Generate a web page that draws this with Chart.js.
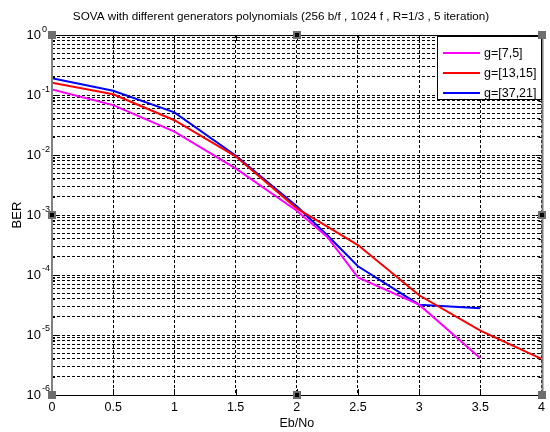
<!DOCTYPE html>
<html>
<head>
<meta charset="utf-8">
<script src="https://cdn.jsdelivr.net/npm/chart.js@4.4.1/dist/chart.umd.min.js"></script>
<style>
  html, body { margin: 0; padding: 0; background: #fff; }
  canvas { display: block; }
</style>
</head>
<body>
<canvas id="ber" width="550" height="432"></canvas>
<script>
// Eb/No sample points (dB)
const ebNo = [0, 0.5, 1, 1.5, 2, 2.25, 2.5, 3, 3.5, 4];

// Bit error rate for each generator polynomial pair
const berG75   = [0.124, 0.068, 0.0245, 0.0060, 0.00118, 0.00043, 9.1e-5, 3.2e-5, 4.1e-6, null];
const berG1315 = [0.160, 0.103, 0.0380, 0.0095, 0.00129, 0.00064, 3.16e-4, 4.6e-5, 1.18e-5, 4.0e-6];
const berG3721 = [0.190, 0.118, 0.0514, 0.0098, 0.00140, 0.00046, 1.4e-4, 3.2e-5, 2.8e-5, null];

const seriesNames = ['g=[7,5]', 'g=[13,15]', 'g=[37,21]'];
const seriesColors = ['#ff00ff', '#ff0000', '#0000ff'];

// Axis ticks
const xTickValues = [0, 0.5, 1, 1.5, 2, 2.5, 3, 3.5, 4];
const yDecades = [0, -1, -2, -3, -4, -5, -6];

const chartTitle = 'SOVA with different generators polynomials (256 b/f , 1024 f , R=1/3 , 5 iteration)';
const xTitle = 'Eb/No';
const yTitle = 'BER';

const FONT = '"Liberation Sans", Arial, sans-serif';

function toPoints(values) {
  const pts = [];
  values.forEach((v, i) => { if (v !== null) pts.push({ x: ebNo[i], y: v }); });
  return pts;
}

// 1..9 x 10^n grid for the log axis
function logTicks() {
  const ticks = [];
  const lo = Math.min(...yDecades), hi = Math.max(...yDecades);
  for (let e = lo; e <= hi; e++) {
    for (let m = 1; m <= 9; m++) {
      if (e === hi && m > 1) break;
      ticks.push({ value: m * Math.pow(10, e), major: m === 1 });
    }
  }
  return ticks;
}

function isDecade(v) {
  const e = Math.log10(v);
  return Math.abs(e - Math.round(e)) < 1e-9;
}

// Frame, tick marks, decade exponents, legend and axes handles
const decorations = {
  id: 'decorations',
  afterDraw(chart) {
    const { ctx, chartArea: a, scales } = chart;
    const xs = scales.x, ys = scales.y;
    ctx.save();

    // inward tick marks on all four sides
    ctx.strokeStyle = '#000';
    ctx.lineWidth = 1;
    ctx.setLineDash([]);
    ctx.beginPath();
    ys.ticks.forEach(t => {
      const y = Math.round(ys.getPixelForValue(t.value)) + 0.5;
      const len = isDecade(t.value) ? 6 : 3;
      ctx.moveTo(a.left, y); ctx.lineTo(a.left + len, y);
      ctx.moveTo(a.right, y); ctx.lineTo(a.right - len, y);
    });
    xTickValues.forEach(v => {
      const x = Math.round(xs.getPixelForValue(v)) + 0.5;
      ctx.moveTo(x, a.bottom); ctx.lineTo(x, a.bottom - 6);
      ctx.moveTo(x, a.top); ctx.lineTo(x, a.top + 6);
    });
    ctx.stroke();

    // axes box
    ctx.beginPath();
    ctx.moveTo(a.left, a.top + 0.5); ctx.lineTo(a.right, a.top + 0.5);
    ctx.moveTo(a.left, a.bottom + 0.5); ctx.lineTo(a.right, a.bottom + 0.5);
    ctx.stroke();
    ctx.strokeStyle = '#808080';
    ctx.lineWidth = 2;
    ctx.beginPath();
    ctx.moveTo(a.left, a.top); ctx.lineTo(a.left, a.bottom);
    ctx.moveTo(a.right + 1, a.top); ctx.lineTo(a.right + 1, a.bottom);
    ctx.stroke();

    // decade exponents next to the "10" labels
    ctx.fillStyle = '#000';
    ctx.font = '9px ' + FONT;
    ctx.textAlign = 'left';
    ctx.textBaseline = 'middle';
    const labelRight = a.left - ys.options.ticks.padding;
    yDecades.forEach(d => {
      const y = ys.getPixelForValue(Math.pow(10, d));
      ctx.fillText(d === 0 ? '0' : '-' + Math.abs(d), labelRight + 1, y - 6);
    });

    // legend box
    const lx = 437, ly = 36, lw = 104, lh = 63;
    ctx.fillStyle = '#fff';
    ctx.fillRect(lx, ly, lw, lh);
    ctx.strokeStyle = '#000';
    ctx.lineWidth = 1;
    ctx.strokeRect(lx + 0.5, ly + 0.5, lw, lh);
    ctx.font = '12.5px ' + FONT;
    ctx.textBaseline = 'middle';
    chart.data.datasets.forEach((ds, i) => {
      const y = ly + 17 + i * 20;
      ctx.strokeStyle = ds.borderColor;
      ctx.lineWidth = 2;
      ctx.beginPath();
      ctx.moveTo(lx + 6, y); ctx.lineTo(lx + 43, y);
      ctx.stroke();
      ctx.fillStyle = '#000';
      ctx.fillText(ds.label, lx + 47, y + 1);
    });

    // selection handles at corners and edge midpoints
    const mx = (a.left + a.right) / 2, my = (a.top + a.bottom) / 2;
    const handles = [
      [a.left, a.top], [mx, a.top], [a.right, a.top],
      [a.left, my], [a.right, my],
      [a.left, a.bottom], [mx, a.bottom], [a.right, a.bottom]
    ];
    handles.forEach(([hx, hy], i) => {
      ctx.fillStyle = '#6e6e6e';
      ctx.fillRect(Math.round(hx) - 4, Math.round(hy) - 4, 8, 8);
      if (i === 1 || i === 3 || i === 4 || i === 6) {
        ctx.fillStyle = '#000';
        ctx.fillRect(Math.round(hx) - 2, Math.round(hy) - 2, 4, 4);
      }
    });
    ctx.restore();
  }
};

new Chart(document.getElementById('ber'), {
  type: 'line',
  data: {
    datasets: [berG75, berG1315, berG3721].map((vals, i) => ({
      label: seriesNames[i],
      data: toPoints(vals),
      borderColor: seriesColors[i],
      backgroundColor: seriesColors[i],
      borderWidth: 2,
      pointRadius: 0,
      tension: 0,
      fill: false
    }))
  },
  options: {
    responsive: false,
    animation: false,
    devicePixelRatio: 1,
    layout: { padding: { left: 16, right: 4, top: 0, bottom: 0 } },
    plugins: {
      legend: { display: false },
      tooltip: { enabled: false },
      title: {
        display: true,
        text: chartTitle,
        color: '#000',
        font: { family: FONT, size: 11.7, weight: 'normal', lineHeight: 1.2 },
        padding: { top: 10, bottom: 11 }
      }
    },
    scales: {
      x: {
        type: 'linear',
        min: 0,
        max: 4,
        afterBuildTicks: s => { s.ticks = xTickValues.map(v => ({ value: v })); },
        afterFit: s => { s.height = 37; },
        ticks: {
          color: '#000',
          font: { family: FONT, size: 12.5 },
          padding: 5,
          autoSkip: false,
          maxRotation: 0,
          callback: v => String(v)
        },
        grid: { color: '#000', lineWidth: 1, drawTicks: false },
        border: { display: false, dash: [3, 2] },
        title: {
          display: true,
          text: xTitle,
          color: '#000',
          font: { family: FONT, size: 12.5 },
          padding: { top: 0, bottom: 1 }
        }
      },
      y: {
        type: 'logarithmic',
        min: 1e-6,
        max: 1,
        afterBuildTicks: s => { s.ticks = logTicks(); },
        afterFit: s => { s.width = 36; },
        ticks: {
          color: '#000',
          font: { family: FONT, size: 13 },
          padding: 11,
          autoSkip: false,
          callback: v => (isDecade(v) ? '10' : '')
        },
        grid: { color: '#000', lineWidth: 1, drawTicks: false },
        border: { display: false, dash: [3, 2] },
        title: {
          display: true,
          text: yTitle,
          color: '#000',
          font: { family: FONT, size: 13 },
          padding: { top: -6, bottom: 0 }
        }
      }
    }
  },
  plugins: [decorations]
});
</script>
</body>
</html>
